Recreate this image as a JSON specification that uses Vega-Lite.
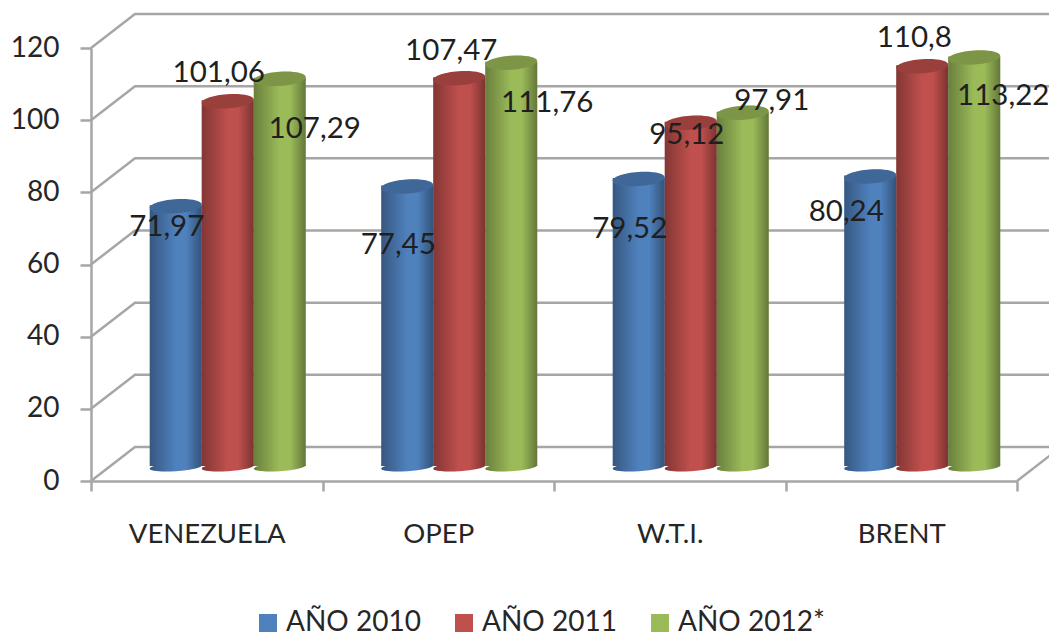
{"$schema":"https://vega.github.io/schema/vega-lite/v6.json","width":926,"height":433,"autosize":"none","padding":{"left":91,"top":48,"right":32,"bottom":154},"background":"white","config":{"view":{"stroke":null},"font":"Lato"},
"datasets":{"bars":[
{"cat":"VENEZUELA","series":"AÑO 2010","value":71.97,"label":"71,97"},{"cat":"VENEZUELA","series":"AÑO 2011","value":101.06,"label":"101,06"},{"cat":"VENEZUELA","series":"AÑO 2012*","value":107.29,"label":"107,29"},
{"cat":"OPEP","series":"AÑO 2010","value":77.45,"label":"77,45"},{"cat":"OPEP","series":"AÑO 2011","value":107.47,"label":"107,47"},{"cat":"OPEP","series":"AÑO 2012*","value":111.76,"label":"111,76"},
{"cat":"W.T.I.","series":"AÑO 2010","value":79.52,"label":"79,52"},{"cat":"W.T.I.","series":"AÑO 2011","value":95.12,"label":"95,12"},{"cat":"W.T.I.","series":"AÑO 2012*","value":97.91,"label":"97,91"},
{"cat":"BRENT","series":"AÑO 2010","value":80.24,"label":"80,24"},{"cat":"BRENT","series":"AÑO 2011","value":110.8,"label":"110,8"},{"cat":"BRENT","series":"AÑO 2012*","value":113.22,"label":"113,22"}],
"grid":[
{"line":"0","pos":0,"v":0},{"line":"0","pos":0.19,"v":9.42},{"line":"0","pos":4.19,"v":9.42},
{"line":"20","pos":0,"v":20},{"line":"20","pos":0.19,"v":29.42},{"line":"20","pos":4.19,"v":29.42},
{"line":"40","pos":0,"v":40},{"line":"40","pos":0.19,"v":49.42},{"line":"40","pos":4.19,"v":49.42},
{"line":"60","pos":0,"v":60},{"line":"60","pos":0.19,"v":69.42},{"line":"60","pos":4.19,"v":69.42},
{"line":"80","pos":0,"v":80},{"line":"80","pos":0.19,"v":89.42},{"line":"80","pos":4.19,"v":89.42},
{"line":"100","pos":0,"v":100},{"line":"100","pos":0.19,"v":109.42},{"line":"100","pos":4.19,"v":109.42},
{"line":"120","pos":0,"v":120},{"line":"120","pos":0.19,"v":129.42},{"line":"120","pos":4.19,"v":129.42},
{"line":"floor","pos":4,"v":0},{"line":"floor","pos":4.19,"v":9.42}]},
"resolve":{"scale":{"x":"independent"}},
"layer":[
{"data":{"name":"grid"},"mark":{"type":"line","color":"#a6a6a6","strokeWidth":2.5},"encoding":{"x":{"field":"pos","type":"quantitative","scale":{"domain":[0,4]},"axis":null},"y":{"field":"v","type":"quantitative","scale":{"domain":[0,120],"nice":false},"axis":{"title":null,"values":[0,20,40,60,80,100,120],"grid":false,"domainColor":"#a6a6a6","domainWidth":2.5,"tickColor":"#a6a6a6","tickWidth":2.5,"tickSize":11,"labelFontSize":28,"labelColor":"#262626","labelPadding":21,"labelFont":"Lato"}},"detail":{"field":"line"}}},
{"data":{"name":"bars"},
"encoding":{"x":{"field":"cat","type":"nominal","sort":null,"scale":{"paddingInner":0,"paddingOuter":0},"axis":{"title":null,"labelAngle":0,"tickBand":"extent","domainColor":"#a6a6a6","domainWidth":2.5,"tickColor":"#a6a6a6","tickWidth":2.5,"tickSize":10,"labelFontSize":27.5,"labelColor":"#262626","labelPadding":29,"labelFont":"Lato"}},"xOffset":{"field":"series","type":"nominal","sort":null,"scale":{"paddingInner":0,"paddingOuter":0.726,"align":0.778}},"y":{"field":"value","type":"quantitative","scale":{"domain":[0,120],"nice":false}},"color":{"field":"series","type":"nominal","sort":null,"scale":{"domain":["AÑO 2010","AÑO 2011","AÑO 2012*"],"range":["#4f81bd","#c0504d","#9bbb59"]},"legend":{"title":null,"orient":"none","direction":"horizontal","columns":3,"legendX":163,"legendY":561,"padding":0,"symbolType":"square","symbolSize":324,"symbolStrokeWidth":0,"symbolOpacity":1,"labelFontSize":28,"labelColor":"#262626","labelFont":"Lato","labelOffset":4,"columnPadding":29,"labelLimit":300}}},
"layer":[
{"mark":{"type":"point","filled":true,"opacity":1,"size":2704,"shape":"M-1,0.07A1,0.16 -4 1,1 1,-0.07A1,0.16 -4 1,1 -1,0.07Z","yOffset":-14},"encoding":{"y":{"datum":0}}},
{"mark":{"type":"point","filled":true,"opacity":1,"size":2704,"shape":"M-1,0.07A1,0.16 -4 1,1 1,-0.07A1,0.16 -4 1,1 -1,0.07Z","yOffset":-14},"encoding":{"y":{"datum":0},"color":{"value":null},"fill":{"value":{"gradient":"linear","x1":0,"x2":1,"y1":0,"y2":0,"stops":[{"offset":0,"color":"rgba(0,0,0,0.32)"},{"offset":0.5,"color":"rgba(0,0,0,0)"},{"offset":0.7,"color":"rgba(0,0,0,0)"},{"offset":1,"color":"rgba(0,0,0,0.36)"}]}}}},
{"mark":{"type":"bar","yOffset":-16,"y2Offset":-15},"encoding":{"y2":{"datum":0}}},
{"mark":{"type":"bar","yOffset":-16,"y2Offset":-15},"encoding":{"y2":{"datum":0},"color":{"value":null},"fill":{"value":{"gradient":"linear","x1":0,"x2":1,"y1":0,"y2":0,"stops":[{"offset":0,"color":"rgba(0,0,0,0.32)"},{"offset":0.5,"color":"rgba(0,0,0,0)"},{"offset":0.7,"color":"rgba(0,0,0,0)"},{"offset":1,"color":"rgba(0,0,0,0.36)"}]}}}},
{"mark":{"type":"point","filled":true,"opacity":1,"size":2704,"shape":"M-1,0.07A1,0.27 -4 1,1 1,-0.07A1,0.27 -4 1,1 -1,0.07Z","yOffset":-15}},
{"mark":{"type":"point","filled":true,"opacity":0.2,"size":2704,"shape":"M-1,0.07A1,0.27 -4 1,1 1,-0.07A1,0.27 -4 1,1 -1,0.07Z","yOffset":-15},"encoding":{"color":{"value":"#000000"}}},
{"transform":[{"filter":"datum.label=='71,97'"}],"mark":{"type":"text","fontSize":29.5,"dx":-9,"dy":6},"encoding":{"text":{"field":"label"},"color":{"value":"#1f1f1f"}}},
{"transform":[{"filter":"datum.label=='101,06'"}],"mark":{"type":"text","fontSize":29.5,"dx":-9,"dy":-43},"encoding":{"text":{"field":"label"},"color":{"value":"#1f1f1f"}}},
{"transform":[{"filter":"datum.label=='107,29'"}],"mark":{"type":"text","fontSize":29.5,"dx":35,"dy":35},"encoding":{"text":{"field":"label"},"color":{"value":"#1f1f1f"}}},
{"transform":[{"filter":"datum.label=='77,45'"}],"mark":{"type":"text","fontSize":29.5,"dx":-9,"dy":43},"encoding":{"text":{"field":"label"},"color":{"value":"#1f1f1f"}}},
{"transform":[{"filter":"datum.label=='107,47'"}],"mark":{"type":"text","fontSize":29.5,"dx":-8,"dy":-42},"encoding":{"text":{"field":"label"},"color":{"value":"#1f1f1f"}}},
{"transform":[{"filter":"datum.label=='111,76'"}],"mark":{"type":"text","fontSize":29.5,"dx":36,"dy":25},"encoding":{"text":{"field":"label"},"color":{"value":"#1f1f1f"}}},
{"transform":[{"filter":"datum.label=='79,52'"}],"mark":{"type":"text","fontSize":29.5,"dx":-9,"dy":35},"encoding":{"text":{"field":"label"},"color":{"value":"#1f1f1f"}}},
{"transform":[{"filter":"datum.label=='95,12'"}],"mark":{"type":"text","fontSize":29.5,"dx":-4,"dy":-3},"encoding":{"text":{"field":"label"},"color":{"value":"#1f1f1f"}}},
{"transform":[{"filter":"datum.label=='97,91'"}],"mark":{"type":"text","fontSize":29.5,"dx":29,"dy":-27},"encoding":{"text":{"field":"label"},"color":{"value":"#1f1f1f"}}},
{"transform":[{"filter":"datum.label=='80,24'"}],"mark":{"type":"text","fontSize":29.5,"dx":-24,"dy":21},"encoding":{"text":{"field":"label"},"color":{"value":"#1f1f1f"}}},
{"transform":[{"filter":"datum.label=='110,8'"}],"mark":{"type":"text","fontSize":29.5,"dx":-8,"dy":-43},"encoding":{"text":{"field":"label"},"color":{"value":"#1f1f1f"}}},
{"transform":[{"filter":"datum.label=='113,22'"}],"mark":{"type":"text","fontSize":29.5,"dx":29,"dy":24},"encoding":{"text":{"field":"label"},"color":{"value":"#1f1f1f"}}}
]}]}
